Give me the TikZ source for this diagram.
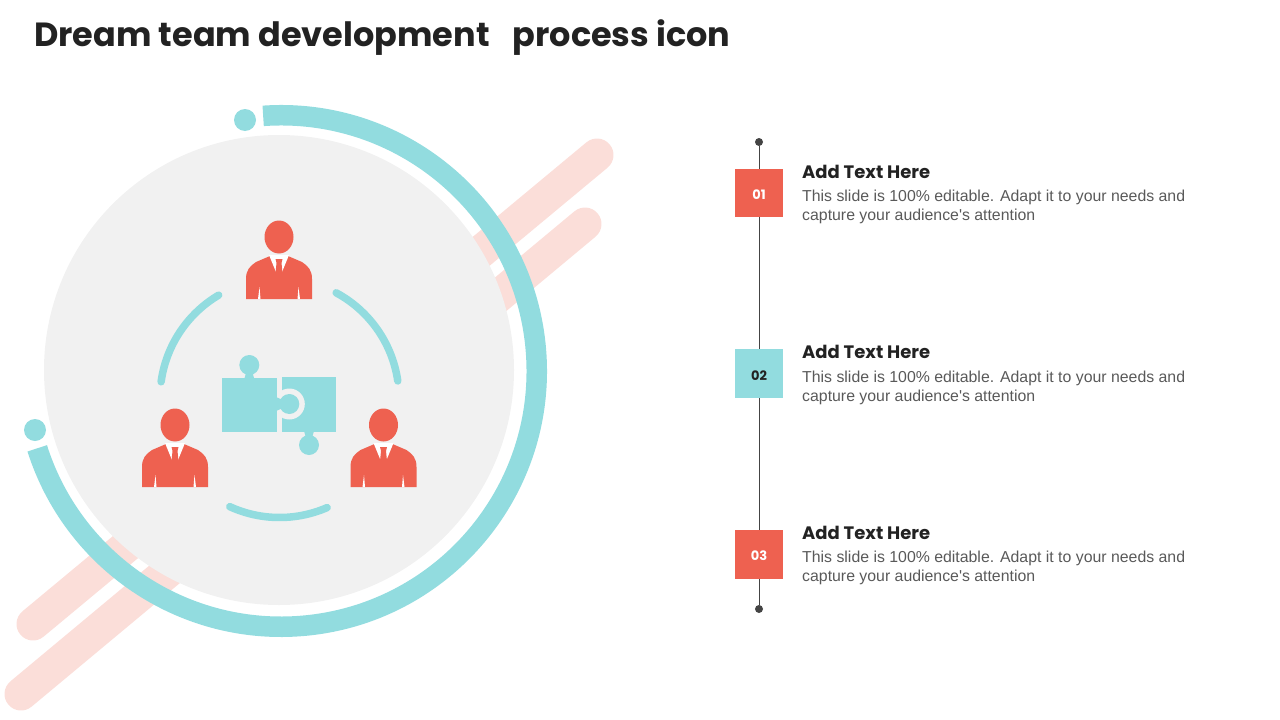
\documentclass[tikz,border=0pt]{standalone}
\usepackage{fontspec}
\setmainfont{Liberation Sans}
\newfontfamily\headfont{Poppins}
\newfontfamily\notefont{Liberation Sans}
\definecolor{coral}{HTML}{EE6150}
\definecolor{aqua}{HTML}{92DCDF}
\definecolor{blush}{HTML}{FBDED9}
\definecolor{disc}{HTML}{F1F1F1}
\definecolor{ink}{HTML}{222222}
\definecolor{bodytext}{HTML}{595959}
\definecolor{spine}{HTML}{444444}
\begin{document}
\begin{tikzpicture}[
            x=1pt, y=1pt,
            bar/.style={draw=blush, line width=33pt, line cap=round},
            dot/.style={circle, fill=aqua, inner sep=0pt, minimum size=22pt},
            link/.style={draw=aqua, line width=7.5pt, line cap=round},
            numbox/.style={rectangle, inner sep=0pt, minimum width=48pt, minimum height=48.5pt, text height=13pt, font=\headfont\bfseries\fontsize{13}{15}\selectfont},
            head/.style={anchor=west, inner sep=0pt, text=ink, font=\headfont\bfseries\fontsize{18}{20}\selectfont},
            note/.style={anchor=north west, inner sep=0pt, align=left, text=bodytext, font=\notefont\fontsize{15.85}{19}\selectfont},
            end/.style={circle, fill=spine, inner sep=0pt, minimum size=8pt},
            person/.pic={
                \fill[coral] (0,-17) ellipse [x radius=14.5pt, y radius=16.5pt];
                \fill[coral] (-33,-79) -- (-33,-59) .. controls (-33,-50) and (-29,-46) .. (-23,-42) -- (-9,-36) -- (9,-36) -- (23,-42) .. controls (29,-46) and (33,-50) .. (33,-59) -- (33,-79) -- cycle;
                \fill[white] (-10,-35) -- (10,-35) -- (3,-52) -- (-3,-52) -- cycle;
                \fill[coral] (-3.5,-39) -- (3.5,-39) -- (2.5,-43) -- (3.5,-53) -- (-3.5,-53) -- (-2.5,-43) -- cycle;
                \fill[white] (-19.5,-67) -- (-18.5,-79) -- (-21,-79) -- cycle;
                \fill[white] (19.5,-67) -- (18.5,-79) -- (21,-79) -- cycle;
            },
        ]
            \useasboundingbox (0,0) rectangle (1280,-720);
            \node[anchor=west, inner sep=0pt, text=ink, font=\headfont\bfseries\fontsize{33.5}{40}\selectfont](title) at (34,-38) {Dream team development\hspace{23pt}process icon};

            % stripes behind the disc
            \draw[bar] (597,-155) -- (33,-624);
            \draw[bar] (585,-224) -- (21,-694);
            \fill[disc] (279,-370) circle (235pt);
            \draw[aqua, line width=20.5pt] (281,-371) ++(94:255.75pt) arc[start angle=94, end angle=-162.4, radius=255.75pt];
            \node[dot](dotone) at (245,-120) {};
            \node[dot](dottwo) at (35,-430) {};

            % people and links
            \pic at (279,-220) {person};
            \pic at (175,-408) {person};
            \pic at (383.5,-408) {person};
            \draw[link] (279.5,-398) ++(120.6:119.5pt) arc[start angle=120.6, end angle=172.2, radius=119.5pt];
            \draw[link] (279.5,-398) ++(61.7:119.5pt) arc[start angle=61.7, end angle=8.2, radius=119.5pt];
            \draw[link] (279.5,-398) ++(245.4:119.5pt) arc[start angle=245.4, end angle=293.5, radius=119.5pt];

            % puzzle
            \fill[aqua] (282.3,-377) rectangle (336,-432);
            \fill[aqua] (309,-445) circle (10pt);
            \fill[aqua] (304,-431) -- (306,-438) -- (312,-438) -- (314,-431) -- cycle;
            \fill[disc] (289.3,-404) circle (15.5pt);
            \fill[disc] (277,-377) rectangle (282.3,-432);
            \fill[aqua] (222,-378) rectangle (277,-432);
            \fill[aqua] (249.3,-365) circle (10pt);
            \fill[aqua] (244.3,-379) -- (246.3,-372) -- (252.3,-372) -- (254.3,-379) -- cycle;
            \fill[aqua] (289.3,-404) circle (10pt);
            \fill[aqua] (276,-397) -- (283,-400) -- (283,-408) -- (276,-411) -- cycle;

            % timeline
            \node[end](topend) at (759,-142) {};
            \node[end](bottomend) at (759,-609) {};
            \draw[spine, line width=1pt] (topend) -- (bottomend);
            \node[numbox, fill=coral, text=white](boxone) at (759,-193) {01};
            \node[numbox, fill=aqua, text=ink](boxtwo) at (759,-373.5) {02};
            \node[numbox, fill=coral, text=white](boxthree) at (759,-554.5) {03};

            \node[head](headone) at (802,-171.5) {Add Text Here};
            \node[note](noteone) at (802,-190) {This slide is 100\% editable. Adapt it to your needs and\\capture your audience's attention};
            \node[head](headtwo) at (802,-351.5) {Add Text Here};
            \node[note](notetwo) at (802,-371) {This slide is 100\% editable. Adapt it to your needs and\\capture your audience's attention};
            \node[head](headthree) at (802,-532.5) {Add Text Here};
            \node[note](notethree) at (802,-551) {This slide is 100\% editable. Adapt it to your needs and\\capture your audience's attention};
        \end{tikzpicture}
\end{document}
